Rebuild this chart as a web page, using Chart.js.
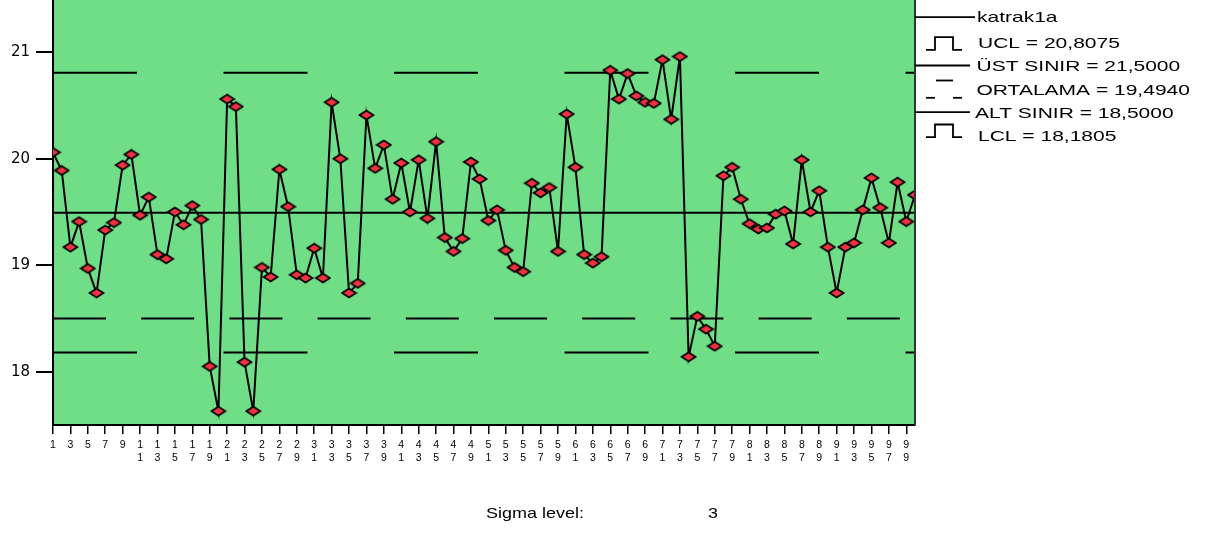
<!DOCTYPE html>
<html>
<head>
<meta charset="utf-8">
<script src="https://cdn.jsdelivr.net/npm/chart.js@4.4.0/dist/chart.umd.min.js"></script>
<style>
  html, body { margin: 0; padding: 0; background: #fff; overflow: hidden; }
  #wrap { position: relative; width: 1213px; height: 533px; overflow: hidden; }
  #wrap canvas { position: absolute; left: 0; top: -8.5px; }
</style>
</head>
<body>
<div id="wrap"><canvas id="chart" width="1213" height="541"></canvas></div>
<script>
// örnek numaraları
const sampleNo = [
  1, 2, 3, 4, 5, 6, 7, 8, 9, 10,
  11, 12, 13, 14, 15, 16, 17, 18, 19, 20,
  21, 22, 23, 24, 25, 26, 27, 28, 29, 30,
  31, 32, 33, 34, 35, 36, 37, 38, 39, 40,
  41, 42, 43, 44, 45, 46, 47, 48, 49, 50,
  51, 52, 53, 54, 55, 56, 57, 58, 59, 60,
  61, 62, 63, 64, 65, 66, 67, 68, 69, 70,
  71, 72, 73, 74, 75, 76, 77, 78, 79, 80,
  81, 82, 83, 84, 85, 86, 87, 88, 89, 90,
  91, 92, 93, 94, 95, 96, 97, 98, 99, 100
];

// katrak1a ölçümleri
const katrak1a = [
  20.06, 19.89, 19.17, 19.41, 18.97, 18.74, 19.33, 19.40, 19.94, 20.04,
  19.47, 19.64, 19.10, 19.06, 19.50, 19.38, 19.56, 19.43, 18.05, 17.63,
  20.56, 20.49, 18.09, 17.63, 18.98, 18.89, 19.90, 19.55, 18.91, 18.88,
  19.16, 18.88, 20.53, 20.00, 18.74, 18.83, 20.41, 19.91, 20.13, 19.62,
  19.96, 19.50, 19.99, 19.44, 20.16, 19.26, 19.13, 19.25, 19.97, 19.81,
  19.42, 19.52, 19.14, 18.98, 18.94, 19.77, 19.68, 19.73, 19.13, 20.42,
  19.92, 19.10, 19.02, 19.08, 20.83, 20.56, 20.80, 20.59, 20.53, 20.52,
  20.93, 20.37, 20.96, 18.14, 18.52, 18.40, 18.24, 19.84, 19.92, 19.62,
  19.39, 19.34, 19.35, 19.48, 19.51, 19.20, 19.99, 19.50, 19.70, 19.17,
  18.74, 19.17, 19.21, 19.52, 19.82, 19.54, 19.21, 19.78, 19.41, 19.66
];

// kontrol sınırları
const UCL = 20.8075;
const UST_SINIR = 21.5;
const ORTALAMA = 19.494;
const ALT_SINIR = 18.5;
const LCL = 18.1805;

// eksen etiketleri
const yTicks = [18, 19, 20, 21];
const xTicks = [
  1, 3, 5, 7, 9, 11, 13, 15, 17, 19, 21, 23, 25, 27, 29, 31, 33, 35, 37, 39,
  41, 43, 45, 47, 49, 51, 53, 55, 57, 59, 61, 63, 65, 67, 69, 71, 73, 75, 77, 79,
  81, 83, 85, 87, 89, 91, 93, 95, 97, 99
];
const legendTexts = [
  'katrak1a',
  'UCL = 20,8075',
  'ÜST SINIR = 21,5000',
  'ORTALAMA = 19,4940',
  'ALT SINIR = 18,5000',
  'LCL = 18,1805'
];
const sigmaLabel = 'Sigma level:';
const sigmaValue = '3';

// canvas sayfada 8.5px yukarı kaydırıldı
const SHIFT = 8.5;

// basık elmas işaretçi
function diamondMarker() {
  const c = document.createElement('canvas');
  c.width = 17; c.height = 12;
  const g = c.getContext('2d');
  g.beginPath();
  g.moveTo(1.5, 6); g.lineTo(8.5, 1.5); g.lineTo(15.5, 6); g.lineTo(8.5, 10.5);
  g.closePath();
  g.fillStyle = '#ee3340';
  g.fill();
  g.lineWidth = 1.7;
  g.strokeStyle = '#000';
  g.stroke();
  return c;
}

const hline = (v) => [{ x: sampleNo[0], y: v }, { x: sampleNo[sampleNo.length - 1], y: v }];

// yatay gerilmiş yazı (SPSS çıktısındaki gibi)
function stretchedText(ctx, text, x, y, size, sx) {
  ctx.save();
  ctx.translate(x, y + SHIFT);
  ctx.scale(sx, 1);
  ctx.font = size + 'px "Liberation Sans", Arial, sans-serif';
  ctx.fillStyle = '#000';
  ctx.textBaseline = 'alphabetic';
  ctx.fillText(text, 0, 0);
  ctx.restore();
}

const spssDecor = {
  id: 'spssDecor',
  beforeDraw(chart) {
    const { ctx, chartArea: a } = chart;
    ctx.save();
    ctx.fillStyle = '#70dd87';
    ctx.fillRect(a.left, a.top, a.right - a.left, a.bottom - a.top);
    ctx.restore();
  },
  afterDraw(chart) {
    const { ctx, chartArea: a } = chart;
    ctx.save();
    // sağ kenar
    ctx.strokeStyle = '#333';
    ctx.lineWidth = 2;
    ctx.beginPath();
    ctx.moveTo(a.right, a.top); ctx.lineTo(a.right, a.bottom);
    ctx.stroke();

    // lejant sembolleri
    ctx.strokeStyle = '#000';
    ctx.lineWidth = 1.8;
    const seg = (x1, y1, x2, y2) => {
      ctx.beginPath(); ctx.moveTo(x1, y1 + SHIFT); ctx.lineTo(x2, y2 + SHIFT); ctx.stroke();
    };
    const step = (top, bot) => {
      ctx.beginPath();
      ctx.moveTo(926, bot + SHIFT); ctx.lineTo(935, bot + SHIFT); ctx.lineTo(935, top + SHIFT);
      ctx.lineTo(953, top + SHIFT); ctx.lineTo(953, bot + SHIFT); ctx.lineTo(962, bot + SHIFT);
      ctx.stroke();
    };
    seg(a.right, 16.7, 975, 16.7);
    step(36.7, 49.3);
    seg(a.right, 65, 970, 65);
    seg(936, 80, 953, 80);
    seg(926, 97.3, 935, 97.3);
    seg(953, 97.3, 962, 97.3);
    seg(a.right, 111.7, 970, 111.7);
    step(124, 136.7);
    ctx.restore();

    const tx = [977, 978, 976.5, 976.5, 975, 978];
    const ty = [21.7, 47.3, 70.7, 94.7, 117.3, 140.7];
    legendTexts.forEach((t, i) => stretchedText(ctx, t, tx[i], ty[i], 15, 1.4));

    stretchedText(ctx, sigmaLabel, 486, 517, 15, 1.2);
    stretchedText(ctx, sigmaValue, 708, 517, 15, 1.2);
  }
};

new Chart(document.getElementById('chart').getContext('2d'), {
  type: 'line',
  data: {
    datasets: [
      {
        label: 'katrak1a',
        data: katrak1a.map((v, i) => ({ x: sampleNo[i], y: v })),
        borderColor: '#000',
        borderWidth: 2,
        tension: 0,
        pointStyle: diamondMarker(),
        pointRadius: 5
      },
      { label: 'UCL', data: hline(UCL), borderColor: '#000', borderWidth: 2, borderDash: [84, 86.5], pointRadius: 0 },
      { label: 'ÜST SINIR', data: hline(UST_SINIR), borderColor: '#000', borderWidth: 2, borderDash: [53, 35.2], pointRadius: 0 },
      { label: 'ORTALAMA', data: hline(ORTALAMA), borderColor: '#000', borderWidth: 2, pointRadius: 0 },
      { label: 'ALT SINIR', data: hline(ALT_SINIR), borderColor: '#000', borderWidth: 2, borderDash: [53, 35.2], pointRadius: 0 },
      { label: 'LCL', data: hline(LCL), borderColor: '#000', borderWidth: 2, borderDash: [84, 86.5], pointRadius: 0 }
    ]
  },
  options: {
    responsive: false,
    animation: false,
    events: [],
    layout: { padding: { left: 0, right: 298, top: 0, bottom: 68 } },
    plugins: { legend: { display: false }, tooltip: { enabled: false } },
    scales: {
      x: {
        type: 'linear',
        min: 1,
        max: 100,
        afterBuildTicks: s => { s.ticks = xTicks.map(v => ({ value: v })); },
        afterFit: s => { s.height = 40; s.paddingLeft = 0; s.paddingRight = 0; },
        grid: { drawOnChartArea: false, tickLength: 9, color: '#000', lineWidth: 1.5 },
        border: { display: true, color: '#000', width: 2 },
        ticks: {
          autoSkip: false,
          maxRotation: 0,
          minRotation: 0,
          padding: 4,
          color: '#000',
          font: { family: '"Liberation Sans", Arial, sans-serif', size: 10.5, lineHeight: 1.3 },
          callback: v => String(v).split('')
        }
      },
      y: {
        type: 'linear',
        min: 17.5,
        max: 21.5,
        afterBuildTicks: s => { s.ticks = yTicks.map(v => ({ value: v })); },
        afterFit: s => { s.width = 53; s.paddingTop = 0; s.paddingBottom = 0; },
        grid: { drawOnChartArea: false, tickLength: 17, color: '#000', lineWidth: 2 },
        border: { display: true, color: '#000', width: 2 },
        ticks: {
          padding: 6,
          color: '#000',
          font: { family: '"DejaVu Sans", sans-serif', size: 15 }
        }
      }
    }
  },
  plugins: [spssDecor]
});
</script>
</body>
</html>
